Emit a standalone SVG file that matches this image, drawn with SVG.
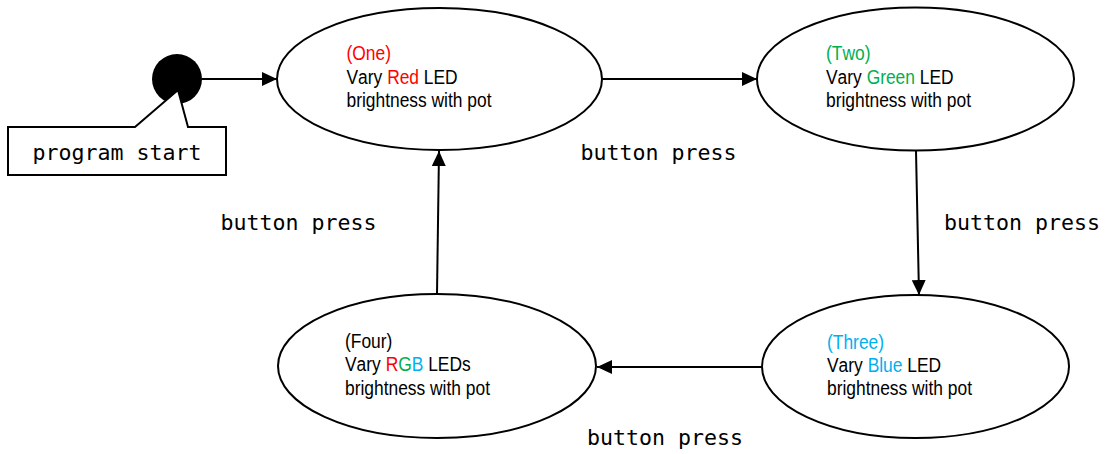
<svg xmlns="http://www.w3.org/2000/svg" width="1108" height="454" viewBox="0 0 1108 454">
<style>
.state{fill:#fff;stroke:#000;stroke-width:2}
.edge{fill:none;stroke:#000;stroke-width:2}
.lbl{font-family:"DejaVu Sans Mono","Liberation Mono",monospace;font-size:21.6px;fill:#000}
.txt{font-family:"Liberation Sans",Arial,sans-serif;font-size:20px;fill:#000;font-kerning:none}
.r{fill:#FF0000}.g{fill:#00B050}.b{fill:#00B0F0}
</style>
<defs>
<marker id="arr" markerUnits="userSpaceOnUse" markerWidth="16" markerHeight="14" refX="15" refY="7" orient="auto">
<path d="M0,0 L15,7 L0,14 Z" fill="#000"/>
</marker>
</defs>
<rect width="1108" height="454" fill="#fff"/>
<g id="start">
<circle cx="177" cy="79" r="25" fill="#000"/>
<path d="M8,127 L135,127 L178,90 L188,127 L226,127 L226,175 L8,175 Z" fill="#fff" stroke="#000" stroke-width="2"/>
<text class="lbl" x="117" y="160" text-anchor="middle">program start</text>
</g>
<g id="connectors">
<path class="edge" d="M202,79 L277,79" marker-end="url(#arr)"/>
<path class="edge" d="M602,79 L757,79" marker-end="url(#arr)"/>
<path class="edge" d="M916,151 L919,295" marker-end="url(#arr)"/>
<path class="edge" d="M762,367 L597,367" marker-end="url(#arr)"/>
<path class="edge" d="M437,294 L439,151" marker-end="url(#arr)"/>
<text class="lbl" x="580.5" y="160">button press</text>
<text class="lbl" x="944" y="230">button press</text>
<text class="lbl" x="220.5" y="230">button press</text>
<text class="lbl" x="587" y="445">button press</text>
</g>
<g id="one">
<ellipse class="state" cx="439.5" cy="79" rx="162.5" ry="71"/>
<g transform="translate(346.5,0) scale(0.87,1)">
<text class="txt r" x="0" y="60">(One)</text>
<text class="txt" x="0" y="84">Vary</text>
<text class="txt r" x="46.7" y="84">Red</text>
<text class="txt" x="88.9" y="84">LED</text>
<text class="txt" x="0" y="107">brightness with pot</text>
</g>
</g>
<g id="two">
<ellipse class="state" cx="915.5" cy="79" rx="158.5" ry="71.5"/>
<g transform="translate(826,0) scale(0.87,1)">
<text class="txt g" x="0" y="60">(Two)</text>
<text class="txt" x="0" y="84">Vary</text>
<text class="txt g" x="46.7" y="84">Green</text>
<text class="txt" x="107.8" y="84">LED</text>
<text class="txt" x="0" y="107">brightness with pot</text>
</g>
</g>
<g id="three">
<ellipse class="state" cx="915.5" cy="366.5" rx="153.5" ry="71.5"/>
<g transform="translate(827,0) scale(0.87,1)">
<text class="txt b" x="0" y="349">(Three)</text>
<text class="txt" x="0" y="372">Vary</text>
<text class="txt b" x="46.7" y="372">Blue</text>
<text class="txt" x="92.3" y="372">LED</text>
<text class="txt" x="0" y="395">brightness with pot</text>
</g>
</g>
<g id="four">
<ellipse class="state" cx="437" cy="366" rx="159" ry="72"/>
<g transform="translate(345,0) scale(0.87,1)">
<text class="txt" x="0" y="348">(Four)</text>
<text class="txt" x="0" y="371">Vary</text>
<text class="txt r" x="46.7" y="371">R</text>
<text class="txt g" x="61.1" y="371">G</text>
<text class="txt b" x="76.7" y="371">B</text>
<text class="txt" x="95.6" y="371">LEDs</text>
<text class="txt" x="0" y="395">brightness with pot</text>
</g>
</g>
</svg>
